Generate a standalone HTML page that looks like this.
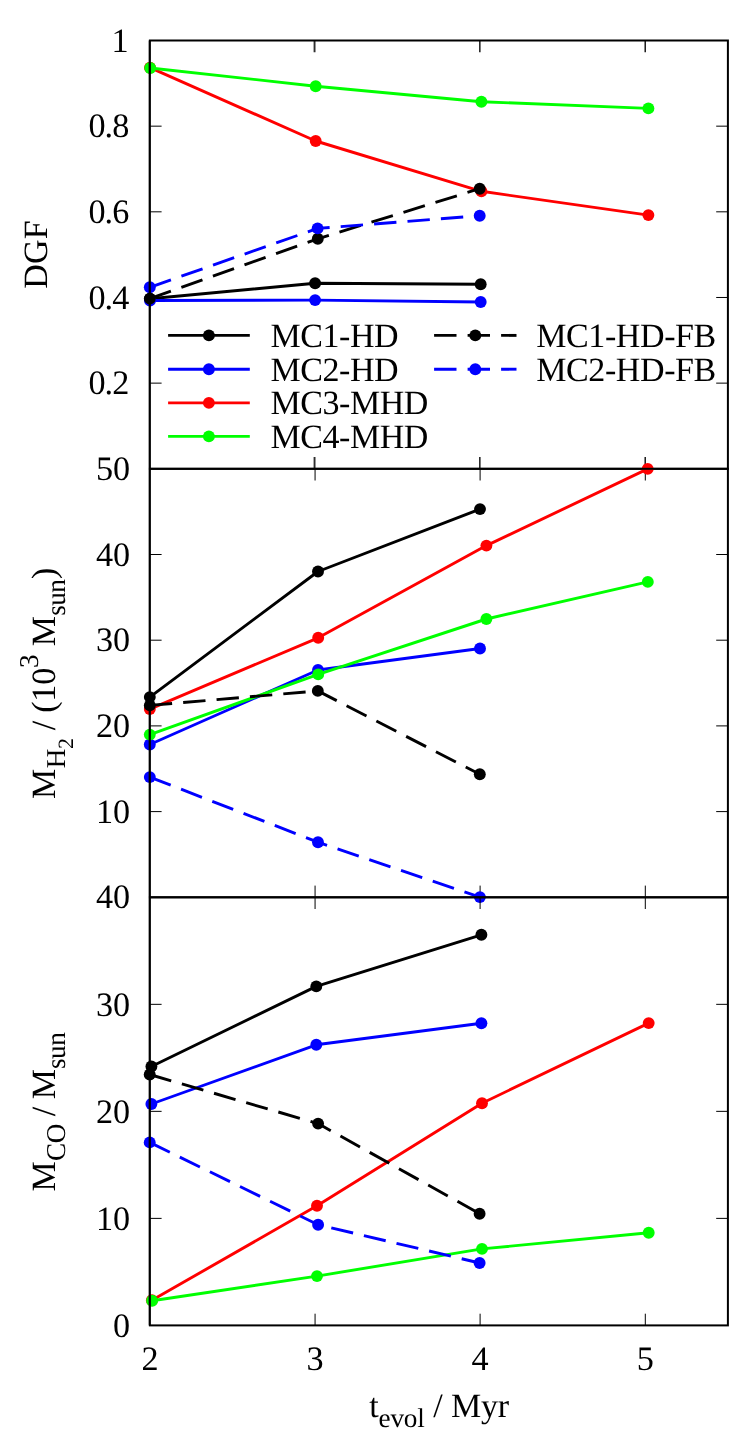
<!DOCTYPE html>
<html><head><meta charset="utf-8"><title>chart</title>
<style>html,body{margin:0;padding:0;background:#fff}svg{display:block;will-change:transform}text{font-family:"Liberation Serif",serif;fill:#000;text-rendering:geometricPrecision}</style>
</head><body>
<svg width="747" height="1454" viewBox="0 0 747 1454">
<rect width="747" height="1454" fill="#fff"/>
<path d="M149.9 383.14h11.7M727.9 383.14h-11.7M149.9 297.48h11.7M727.9 297.48h-11.7M149.9 211.82h11.7M727.9 211.82h-11.7M149.9 126.16h11.7M727.9 126.16h-11.7" stroke="#000" stroke-width="1" fill="none"/><path d="M479.85 40.5v11.7M479.85 468.8v-11.7M645.2 40.5v11.7M645.2 468.8v-11.7" stroke="#000" stroke-width="1.35" fill="none"/><path d="M314.55 40.5v11.7M314.55 468.8v-11.7" stroke="#000" stroke-opacity="0.82" stroke-width="1.9" fill="none"/>
<path d="M150.0 298.8 L315.1 283.2 L480.7 284.3" stroke="#000" stroke-width="2.9" fill="none" stroke-linejoin="round"/>
<circle cx="150.0" cy="298.8" r="5.95" fill="#000"/>
<circle cx="315.1" cy="283.2" r="5.95" fill="#000"/>
<circle cx="480.7" cy="284.3" r="5.95" fill="#000"/>
<path d="M150.0 300.5 L315.1 300.1 L480.7 302.0" stroke="#00f" stroke-width="2.9" fill="none" stroke-linejoin="round"/>
<circle cx="150.0" cy="300.5" r="5.95" fill="#00f"/>
<circle cx="315.1" cy="300.1" r="5.95" fill="#00f"/>
<circle cx="480.7" cy="302.0" r="5.95" fill="#00f"/>
<path d="M150.0 67.7 L315.7 141.0 L481.4 191.3 L648.4 215.1" stroke="#f00" stroke-width="2.9" fill="none" stroke-linejoin="round"/>
<circle cx="150.0" cy="67.7" r="5.95" fill="#f00"/>
<circle cx="315.7" cy="141.0" r="5.95" fill="#f00"/>
<circle cx="481.4" cy="191.3" r="5.95" fill="#f00"/>
<circle cx="648.4" cy="215.1" r="5.95" fill="#f00"/>
<path d="M150.2 68.0 L315.7 86.2 L481.4 101.7 L648.4 108.4" stroke="#0f0" stroke-width="2.9" fill="none" stroke-linejoin="round"/>
<circle cx="150.2" cy="68.0" r="5.95" fill="#0f0"/>
<circle cx="315.7" cy="86.2" r="5.95" fill="#0f0"/>
<circle cx="481.4" cy="101.7" r="5.95" fill="#0f0"/>
<circle cx="648.4" cy="108.4" r="5.95" fill="#0f0"/>
<path d="M149.8 298.6 L317.8 238.8 L479.7 188.7" stroke="#000" stroke-width="2.9" fill="none" stroke-linejoin="round" stroke-dasharray="22.4 11.1"/>
<circle cx="149.8" cy="298.6" r="5.95" fill="#000"/>
<circle cx="317.8" cy="238.8" r="5.95" fill="#000"/>
<circle cx="479.7" cy="188.7" r="5.95" fill="#000"/>
<path d="M149.8 287.3 L317.6 228.4 L479.7 215.7" stroke="#00f" stroke-width="2.9" fill="none" stroke-linejoin="round" stroke-dasharray="22.4 11.1"/>
<circle cx="149.8" cy="287.3" r="5.95" fill="#00f"/>
<circle cx="317.6" cy="228.4" r="5.95" fill="#00f"/>
<circle cx="479.7" cy="215.7" r="5.95" fill="#00f"/>
<path d="M168.1 335.4H249.8" stroke="#000" stroke-width="2.9"/>
<circle cx="208.9" cy="335.4" r="5.95" fill="#000"/>
<text x="270.6" y="346.7" font-size="34" letter-spacing="-0.48">MC1-HD</text>
<path d="M168.1 369.2H249.8" stroke="#00f" stroke-width="2.9"/>
<circle cx="208.9" cy="369.2" r="5.95" fill="#00f"/>
<text x="270.6" y="380.5" font-size="34" letter-spacing="-0.48">MC2-HD</text>
<path d="M168.1 402.9H249.8" stroke="#f00" stroke-width="2.9"/>
<circle cx="208.9" cy="402.9" r="5.95" fill="#f00"/>
<text x="270.6" y="414.2" font-size="34" letter-spacing="-0.48">MC3-MHD</text>
<path d="M168.1 436.4H249.8" stroke="#0f0" stroke-width="2.9"/>
<circle cx="208.9" cy="436.4" r="5.95" fill="#0f0"/>
<text x="270.6" y="447.7" font-size="34" letter-spacing="-0.48">MC4-MHD</text>
<path d="M434.1 335.4H516.5" stroke="#000" stroke-width="2.9" stroke-dasharray="22.4 11.1"/>
<circle cx="475.3" cy="335.4" r="5.95" fill="#000"/>
<text x="536.2" y="346.7" font-size="34" letter-spacing="-0.4">MC1-HD-FB</text>
<path d="M434.1 369.2H516.5" stroke="#00f" stroke-width="2.9" stroke-dasharray="22.4 11.1"/>
<circle cx="475.3" cy="369.2" r="5.95" fill="#00f"/>
<text x="536.2" y="380.5" font-size="34" letter-spacing="-0.4">MC2-HD-FB</text>
<rect x="149.9" y="40.5" width="578.0" height="428.3" fill="none" stroke="#000" stroke-width="2"/>
<path d="M148.70 40.5V468.8" stroke="#000" stroke-width="0.5" stroke-opacity="0.7"/>
<path d="M149.9 811.60h11.7M727.9 811.60h-11.7M149.9 725.90h11.7M727.9 725.90h-11.7M149.9 640.20h11.7M727.9 640.20h-11.7M149.9 554.50h11.7M727.9 554.50h-11.7" stroke="#000" stroke-width="1" fill="none"/><path d="M315.07 468.8v11.7M315.07 897.3v-11.7M480.1 468.8v11.7M480.1 897.3v-11.7M645.3 468.8v11.7M645.3 897.3v-11.7" stroke="#000" stroke-width="1" fill="none"/>
<path d="M149.8 697.1 L318.0 571.5 L480.0 509.1" stroke="#000" stroke-width="2.9" fill="none" stroke-linejoin="round"/>
<circle cx="149.8" cy="697.1" r="5.95" fill="#000"/>
<circle cx="318.0" cy="571.5" r="5.95" fill="#000"/>
<circle cx="480.0" cy="509.1" r="5.95" fill="#000"/>
<path d="M149.8 744.5 L318.0 670.0 L480.0 648.5" stroke="#00f" stroke-width="2.9" fill="none" stroke-linejoin="round"/>
<circle cx="149.8" cy="744.5" r="5.95" fill="#00f"/>
<circle cx="318.0" cy="670.0" r="5.95" fill="#00f"/>
<circle cx="480.0" cy="648.5" r="5.95" fill="#00f"/>
<path d="M149.8 709.1 L318.2 637.8 L486.4 545.6 L647.7 468.9" stroke="#f00" stroke-width="2.9" fill="none" stroke-linejoin="round"/>
<circle cx="149.8" cy="709.1" r="5.95" fill="#f00"/>
<circle cx="318.2" cy="637.8" r="5.95" fill="#f00"/>
<circle cx="486.4" cy="545.6" r="5.95" fill="#f00"/>
<circle cx="647.7" cy="468.9" r="5.95" fill="#f00"/>
<path d="M149.8 734.6 L318.2 674.4 L486.4 619.0 L647.8 581.9" stroke="#0f0" stroke-width="2.9" fill="none" stroke-linejoin="round"/>
<circle cx="149.8" cy="734.6" r="5.95" fill="#0f0"/>
<circle cx="318.2" cy="674.4" r="5.95" fill="#0f0"/>
<circle cx="486.4" cy="619.0" r="5.95" fill="#0f0"/>
<circle cx="647.8" cy="581.9" r="5.95" fill="#0f0"/>
<path d="M149.8 705.4 L317.8 690.9 L479.8 774.3" stroke="#000" stroke-width="2.9" fill="none" stroke-linejoin="round" stroke-dasharray="22.4 11.1"/>
<circle cx="149.8" cy="705.4" r="5.95" fill="#000"/>
<circle cx="317.8" cy="690.9" r="5.95" fill="#000"/>
<circle cx="479.8" cy="774.3" r="5.95" fill="#000"/>
<path d="M149.8 777.1 L318.0 842.2 L479.9 897.1" stroke="#00f" stroke-width="2.9" fill="none" stroke-linejoin="round" stroke-dasharray="22.4 11.1"/>
<circle cx="149.8" cy="777.1" r="5.95" fill="#00f"/>
<circle cx="318.0" cy="842.2" r="5.95" fill="#00f"/>
<circle cx="479.9" cy="897.1" r="5.95" fill="#00f"/>
<rect x="149.9" y="468.8" width="578.0" height="428.5" fill="none" stroke="#000" stroke-width="2"/>
<path d="M148.70 468.8V897.3" stroke="#000" stroke-width="0.5" stroke-opacity="0.7"/>
<path d="M149.9 1218.38h11.7M727.9 1218.38h-11.7M149.9 1111.35h11.7M727.9 1111.35h-11.7M149.9 1004.33h11.7M727.9 1004.33h-11.7" stroke="#000" stroke-width="1" fill="none"/><path d="M315.07 897.3v11.7M315.07 1325.4v-11.7M480.1 897.3v11.7M480.1 1325.4v-11.7M645.3 897.3v11.7M645.3 1325.4v-11.7" stroke="#000" stroke-width="1" fill="none"/>
<path d="M151.4 1066.5 L316.3 986.4 L481.4 934.8" stroke="#000" stroke-width="2.9" fill="none" stroke-linejoin="round"/>
<circle cx="151.4" cy="1066.5" r="5.95" fill="#000"/>
<circle cx="316.3" cy="986.4" r="5.95" fill="#000"/>
<circle cx="481.4" cy="934.8" r="5.95" fill="#000"/>
<path d="M151.4 1104.0 L316.3 1044.8 L481.4 1023.3" stroke="#00f" stroke-width="2.9" fill="none" stroke-linejoin="round"/>
<circle cx="151.4" cy="1104.0" r="5.95" fill="#00f"/>
<circle cx="316.3" cy="1044.8" r="5.95" fill="#00f"/>
<circle cx="481.4" cy="1023.3" r="5.95" fill="#00f"/>
<path d="M151.9 1300.3 L317.0 1205.8 L482.0 1103.2 L648.7 1023.1" stroke="#f00" stroke-width="2.9" fill="none" stroke-linejoin="round"/>
<circle cx="151.9" cy="1300.3" r="5.95" fill="#f00"/>
<circle cx="317.0" cy="1205.8" r="5.95" fill="#f00"/>
<circle cx="482.0" cy="1103.2" r="5.95" fill="#f00"/>
<circle cx="648.7" cy="1023.1" r="5.95" fill="#f00"/>
<path d="M152.1 1300.7 L317.0 1276.1 L482.0 1248.9 L648.7 1232.7" stroke="#0f0" stroke-width="2.9" fill="none" stroke-linejoin="round"/>
<circle cx="152.1" cy="1300.7" r="5.95" fill="#0f0"/>
<circle cx="317.0" cy="1276.1" r="5.95" fill="#0f0"/>
<circle cx="482.0" cy="1248.9" r="5.95" fill="#0f0"/>
<circle cx="648.7" cy="1232.7" r="5.95" fill="#0f0"/>
<path d="M149.7 1074.5 L318.1 1123.6 L479.6 1213.7" stroke="#000" stroke-width="2.9" fill="none" stroke-linejoin="round" stroke-dasharray="22.4 11.1"/>
<circle cx="149.7" cy="1074.5" r="5.95" fill="#000"/>
<circle cx="318.1" cy="1123.6" r="5.95" fill="#000"/>
<circle cx="479.6" cy="1213.7" r="5.95" fill="#000"/>
<path d="M149.7 1142.4 L318.1 1224.7 L479.6 1263.0" stroke="#00f" stroke-width="2.9" fill="none" stroke-linejoin="round" stroke-dasharray="22.4 11.1"/>
<circle cx="149.7" cy="1142.4" r="5.95" fill="#00f"/>
<circle cx="318.1" cy="1224.7" r="5.95" fill="#00f"/>
<circle cx="479.6" cy="1263.0" r="5.95" fill="#00f"/>
<rect x="149.9" y="897.3" width="578.0" height="428.1" fill="none" stroke="#000" stroke-width="2"/>
<path d="M148.70 897.3V1325.4" stroke="#000" stroke-width="0.5" stroke-opacity="0.7"/>
<text x="128.3" y="394.3" font-size="34.2" text-anchor="end" letter-spacing="-0.95">0.2</text>
<text x="128.3" y="308.6" font-size="34.2" text-anchor="end" letter-spacing="-0.95">0.4</text>
<text x="128.3" y="223.0" font-size="34.2" text-anchor="end" letter-spacing="-0.95">0.6</text>
<text x="128.3" y="137.3" font-size="34.2" text-anchor="end" letter-spacing="-0.95">0.8</text>
<text x="128.6" y="51.6" font-size="34.2" text-anchor="end">1</text>
<text x="130.2" y="822.7" font-size="34.2" text-anchor="end">10</text>
<text x="130.2" y="737.0" font-size="34.2" text-anchor="end">20</text>
<text x="130.2" y="651.4" font-size="34.2" text-anchor="end">30</text>
<text x="130.2" y="565.6" font-size="34.2" text-anchor="end">40</text>
<text x="130.2" y="480.0" font-size="34.2" text-anchor="end">50</text>
<text x="130.2" y="1336.6" font-size="34.2" text-anchor="end">0</text>
<text x="130.2" y="1229.5" font-size="34.2" text-anchor="end">10</text>
<text x="130.2" y="1122.5" font-size="34.2" text-anchor="end">20</text>
<text x="130.2" y="1015.5" font-size="34.2" text-anchor="end">30</text>
<text x="130.2" y="908.4" font-size="34.2" text-anchor="end">40</text>
<text x="150.0" y="1370.1" font-size="34.2" text-anchor="middle">2</text>
<text x="315.07" y="1370.1" font-size="34.2" text-anchor="middle">3</text>
<text x="480.1" y="1370.1" font-size="34.2" text-anchor="middle">4</text>
<text x="645.3" y="1370.1" font-size="34.2" text-anchor="middle">5</text>
<text transform="translate(47.4 254.4) rotate(-90)" font-size="34" text-anchor="middle" letter-spacing="0.3">DGF</text>
<text transform="translate(55.3 798.9) rotate(-90)" font-size="34" letter-spacing="-0.5">M<tspan font-size="27.2" dy="9.8" dx="1.0">H</tspan><tspan font-size="21.8" dy="8.3">2</tspan><tspan dy="-18.1" letter-spacing="-0.2"> / (10</tspan><tspan font-size="27.2" dy="-17.4">3</tspan><tspan dy="17.4" dx="0.8"> M</tspan><tspan font-size="27.2" dy="9.8" dx="0.6">sun</tspan><tspan dy="-9.8" dx="0.6">)</tspan></text>
<text transform="translate(55.3 1191.5) rotate(-90)" font-size="34" letter-spacing="-0.5">M<tspan font-size="27.2" dy="9.8" dx="0.8">CO</tspan><tspan dy="-9.8"> / M</tspan><tspan font-size="27.2" dy="9.8" dx="0.5">sun</tspan></text>
<text x="369.2" y="1417.2" font-size="34" letter-spacing="-0.5">t<tspan font-size="27.2" dy="9.3" dx="0.4" letter-spacing="-0.2">evol</tspan><tspan dy="-9.3" dx="0.5" letter-spacing="-0.2"> / Myr</tspan></text>
</svg></body></html>
